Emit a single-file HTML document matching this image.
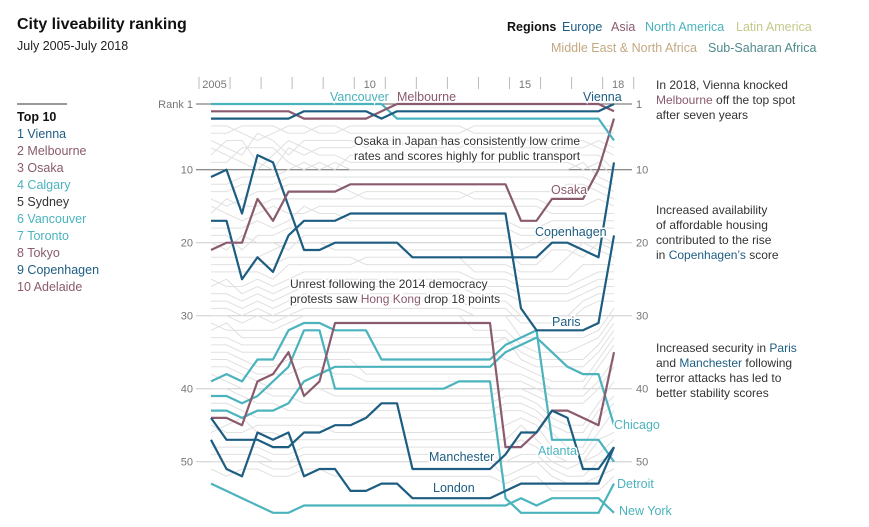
<!DOCTYPE html>
<html><head><meta charset="utf-8">
<style>
html,body{margin:0;padding:0;background:#fff;}
body{width:869px;height:522px;overflow:hidden;font-family:"Liberation Sans",sans-serif;}
svg text{font-family:"Liberation Sans",sans-serif;}
</style></head>
<body>
<svg id="chart" width="869" height="522" viewBox="0 0 869 522" xmlns="http://www.w3.org/2000/svg">
  <text x="17" y="29" font-size="16" font-weight="bold" fill="#111">City liveability ranking</text>
  <text x="17" y="50" font-size="12.5" fill="#222">July 2005-July 2018</text>

  <g font-size="12.5">
    <text x="507" y="31" font-weight="bold" fill="#111">Regions</text>
    <text x="562" y="31" fill="#1d5d82">Europe</text>
    <text x="611" y="31" fill="#8a5a6e">Asia</text>
    <text x="645" y="31" fill="#4bb3bd">North America</text>
    <text x="736" y="31" fill="#c3c98a">Latin America</text>
    <text x="551" y="52" fill="#c4a882">Middle East &amp; North Africa</text>
    <text x="708" y="52" fill="#4f8a8b">Sub-Saharan Africa</text>
  </g>

  <g font-size="12.5">
    <line x1="17" y1="104" x2="67" y2="104" stroke="#333" stroke-width="1"/>
    <text x="17" y="121" font-weight="bold" fill="#111">Top 10</text>
    <text x="17" y="138" fill="#1d5d82">1 Vienna</text>
    <text x="17" y="155" fill="#8a5a6e">2 Melbourne</text>
    <text x="17" y="172" fill="#8a5a6e">3 Osaka</text>
    <text x="17" y="189" fill="#4bb3bd">4 Calgary</text>
    <text x="17" y="206" fill="#333">5 Sydney</text>
    <text x="17" y="223" fill="#4bb3bd">6 Vancouver</text>
    <text x="17" y="240" fill="#4bb3bd">7 Toronto</text>
    <text x="17" y="257" fill="#8a5a6e">8 Tokyo</text>
    <text x="17" y="274" fill="#1d5d82">9 Copenhagen</text>
    <text x="17" y="291" fill="#8a5a6e">10 Adelaide</text>
  </g>

  <g id="axes"></g>
  <g id="grey"></g>
  <g id="hl"></g>

  <g font-size="12" fill="#333" stroke="#fff" stroke-width="3" paint-order="stroke">
    <text x="354" y="145">Osaka in Japan has consistently low crime</text>
    <text x="354" y="160">rates and scores highly for public transport</text>
    <text x="290" y="288">Unrest following the 2014 democracy</text>
    <text x="290" y="303">protests saw <tspan fill="#8a5a6e">Hong Kong</tspan> drop 18 points</text>
  </g>
  <g font-size="12" fill="#333">
    <text x="656" y="89">In 2018, Vienna knocked</text>
    <text x="656" y="104" fill="#8a5a6e">Melbourne<tspan fill="#333"> off the top spot</tspan></text>
    <text x="656" y="119">after seven years</text>
    <text x="656" y="214">Increased availability</text>
    <text x="656" y="229">of affordable housing</text>
    <text x="656" y="244">contributed to the rise</text>
    <text x="656" y="259">in <tspan fill="#1d5d82">Copenhagen’s</tspan> score</text>
    <text x="656" y="352">Increased security in <tspan fill="#1d5d82">Paris</tspan></text>
    <text x="656" y="367">and <tspan fill="#1d5d82">Manchester</tspan> following</text>
    <text x="656" y="382">terror attacks has led to</text>
    <text x="656" y="397">better stability scores</text>
  </g>
</svg>
<script>
const yearLabels = ["2005", "10", "15", "18"];
const yearLabelIdx = [0, 5, 10, 13];
const rankTicks = [1, 10, 20, 30, 40, 50];

const vienna     = [3,3,3,3,3,3,2,2,2,2,2,3,2,2,2,2,2,2,2,2,2,2,2,2,2,2,1];
const melbourne  = [2,2,2,2,2,2,3,3,3,3,3,2,1,1,1,1,1,1,1,1,1,1,1,1,1,1,2];
const vancouver  = [1,1,1,1,1,1,1,1,1,1,1,1,3,3,3,3,3,3,3,3,3,3,3,3,3,3,6];
const osaka      = [21,20,20,14,17,13,13,13,13,12,12,12,12,12,12,12,12,12,12,12,17,17,14,14,14,10,3];
const copenhagen = [11,10,16,8,9,15,21,21,20,20,20,20,20,22,22,22,22,22,22,22,22,22,20,20,21,22,9];
const paris      = [17,17,25,22,24,19,17,17,17,16,16,16,16,16,16,16,16,16,16,16,29,32,32,32,32,31,19];
const hongKong   = [44,44,45,39,38,35,41,39,31,31,31,31,31,31,31,31,31,31,31,48,48,46,43,43,44,45,35];
const manchester = [44,47,47,47,48,48,46,46,45,45,44,42,42,51,51,51,51,51,51,49,46,46,43,44,51,51,48];
const london     = [47,51,52,46,47,46,52,51,51,54,54,53,53,55,55,55,55,55,55,54,53,53,53,53,53,53,48];
const atlanta    = [39,38,39,36,36,32,31,31,32,32,32,36,36,36,36,36,36,36,36,34,33,32,47,47,47,47,50];
const chicago    = [43,43,44,43,43,42,39,38,37,37,37,37,37,37,37,37,37,37,37,35,34,33,35,37,38,38,45];
const detroit    = [41,41,42,41,39,37,32,32,40,40,40,40,40,40,40,40,39,39,39,55,57,57,57,57,57,57,53];
const newYork    = [53,54,55,56,57,57,56,56,56,56,56,56,56,56,56,56,56,56,56,56,55,56,55,55,55,55,57];

const grey1  = [4,4,5,6,5,4,4,5,5,4,4,4,4,4,4,4,4,5,5,5,5,5,5,5,5,5,5];
const grey2  = [5,5,4,4,4,5,5,4,4,5,5,5,5,5,5,5,5,4,4,4,4,4,4,4,4,4,4];
const grey3  = [6,7,8,5,6,8,6,6,6,6,7,6,6,7,7,7,6,7,7,7,7,7,7,7,7,6,7];
const grey4  = [8,6,6,9,10,7,8,7,7,7,6,7,7,6,6,6,7,6,6,6,6,6,6,6,6,7,8];
const grey5  = [9,9,7,7,7,9,10,9,10,8,8,8,8,8,8,8,8,8,8,8,8,8,8,8,8,8,10];
const grey6  = [7,8,9,10,8,6,7,8,8,9,9,9,9,9,9,9,9,9,9,9,9,9,9,9,10,9,11];
const grey7  = [12,12,11,11,11,10,9,10,9,10,10,10,10,10,10,10,10,10,10,10,10,10,10,10,9,11,12];
const grey8  = [13,13,12,12,12,11,11,11,11,11,11,11,11,11,11,11,11,11,11,11,11,11,11,11,11,12,13];
const grey9  = [14,15,14,13,13,12,12,12,12,13,14,14,14,14,14,14,14,13,13,13,13,13,13,12,12,13,14];
const grey10 = [16,14,15,15,14,14,14,14,14,14,13,13,13,13,13,13,13,14,14,14,14,14,15,15,15,14,15];
const grey11 = [15,16,17,16,15,16,16,15,15,15,15,15,15,15,15,15,15,15,15,15,15,15,16,16,16,16,16];
const grey12 = [18,18,18,17,18,17,15,16,16,17,17,17,17,17,17,17,17,17,17,17,18,18,17,17,17,17,17];
const grey13 = [19,19,21,19,19,18,18,18,18,18,18,18,18,18,18,18,18,18,18,18,19,19,18,18,18,18,18];
const grey14 = [20,21,19,20,20,21,19,19,19,19,19,19,19,19,19,19,19,19,19,19,21,20,19,19,19,19,20];
const grey15 = [22,22,22,22,21,20,20,20,21,21,21,21,21,21,21,21,21,21,21,21,23,23,21,21,22,20,21];
const grey16 = [23,23,23,23,23,22,22,22,22,22,23,23,23,23,23,23,23,23,23,23,24,24,24,22,20,21,22];
const grey17 = [24,24,24,24,25,23,23,23,23,23,22,22,22,22,22,22,22,24,24,24,25,25,25,25,23,23,23];
const grey18 = [25,26,26,25,26,25,24,24,24,24,24,24,24,24,24,24,24,25,25,25,26,26,26,26,25,24,24];
const grey19 = [26,25,27,26,27,26,25,25,25,25,25,25,25,25,25,25,25,26,26,26,27,27,27,27,26,25,25];
const grey20 = [27,27,28,27,28,27,26,26,26,26,26,26,26,26,26,26,26,27,27,27,28,28,28,28,27,26,26];
const grey21 = [28,28,29,28,29,28,27,27,27,27,27,27,27,27,27,27,27,28,28,28,30,30,30,30,28,27,27];
const grey22 = [29,29,30,29,30,29,28,28,28,28,28,28,28,28,28,28,28,29,29,29,31,31,31,31,29,28,28];
const grey23 = [30,30,31,30,31,30,29,29,29,29,29,29,29,29,29,29,29,30,30,30,33,33,33,33,33,32,29];
const grey24 = [31,32,32,32,32,31,30,30,30,30,30,30,30,30,30,30,30,32,32,32,34,35,35,35,34,33,30];
const grey25 = [32,31,33,33,33,33,33,33,33,33,33,33,33,33,33,33,33,33,33,33,35,36,36,36,36,34,31];
const grey26 = [33,33,34,34,34,34,34,34,34,34,34,34,34,34,34,34,34,34,34,33,36,37,37,37,37,35,32];
const grey27 = [34,34,35,35,35,35,35,35,35,35,35,35,35,35,35,35,35,35,35,36,37,38,39,39,39,36,33];
const grey28 = [35,35,36,37,37,36,36,36,36,36,38,38,38,38,38,38,38,38,38,38,38,39,40,40,40,37,34];
const grey29 = [36,36,37,38,38,38,37,37,38,38,39,39,39,39,39,39,39,39,39,39,39,40,41,41,41,39,36];
const grey30 = [37,37,38,39,40,40,40,40,41,41,41,41,41,41,41,41,41,41,41,40,40,41,42,42,42,40,37];
const grey31 = [38,39,40,40,41,41,42,42,42,42,42,42,42,42,42,42,42,42,42,41,41,42,44,45,45,42,39];
const grey32 = [40,40,41,42,42,43,43,43,43,43,43,43,43,43,43,43,43,43,43,42,42,43,45,46,46,43,41];
const grey33 = [42,42,43,44,44,44,44,44,44,44,44,44,44,44,44,44,44,44,44,43,43,44,46,48,48,44,42];
const grey34 = [45,46,46,45,45,45,45,45,46,46,46,46,46,46,46,46,46,46,46,45,44,45,48,49,49,46,43];
const grey35 = [46,45,44,46,46,47,47,47,47,47,47,47,47,47,47,47,47,47,47,47,45,47,49,50,50,47,46];
const grey36 = [48,48,48,48,49,49,48,48,48,48,48,48,48,48,48,48,48,48,48,48,47,48,50,51,50,49,47];
const grey37 = [49,49,49,49,50,50,49,49,49,49,49,49,49,49,49,49,49,49,49,50,49,49,51,52,52,50,49];
const grey38 = [50,50,50,50,51,51,50,50,50,50,50,50,50,50,50,50,50,50,50,52,51,50,52,53,53,52,51];
const grey39 = [51,52,51,51,52,52,51,51,52,52,52,52,52,52,52,52,52,52,52,53,52,52,54,54,54,54,52];
const greyLines = [grey1,grey2,grey3,grey4,grey5,grey6,grey7,grey8,grey9,grey10,grey11,grey12,grey13,grey14,grey15,grey16,grey17,grey18,grey19,grey20,grey21,grey22,grey23,grey24,grey25,grey26,grey27,grey28,grey29,grey30,grey31,grey32,grey33,grey34,grey35,grey36,grey37,grey38,grey39];

const NS = "http://www.w3.org/2000/svg";
const X0 = 211, X1 = 614, NPTS = 27;
function xScale(i){ return X0 + (X1 - X0) * i / (NPTS - 1); }
function yScale(r){ return 96.7 + 7.3 * r; }
function mk(tag, attrs, parent){
  const e = document.createElementNS(NS, tag);
  for (const k in attrs) e.setAttribute(k, attrs[k]);
  parent.appendChild(e); return e;
}
function pathFor(arr){ return arr.map((v,i)=>(i?"L":"M")+xScale(i).toFixed(1)+","+yScale(v).toFixed(1)).join(""); }

const axes = document.getElementById("axes");
for (let k = 0; k <= 14; k++){
  const x = 199 + 31.05 * k;
  const t = mk("line", {x1:x, y1:77, x2:x, y2:89, stroke:"#bbb", "stroke-width":1}, axes);
  
  
}
yearLabels.forEach((lab, j) => {
  const k = yearLabelIdx[j];
  const x = 199 + 31.05 * k + 15.5;
  const t = mk("text", {x:x, y:88, "font-size":11, fill:"#777", "text-anchor":"middle"}, axes);
  t.textContent = lab;
  
  
});
rankTicks.forEach(r => {
  const y = yScale(r);
  const dark = (r === 1 || r === 10);
  const g = mk("line", {x1:196, y1:y, x2:632, y2:y, stroke: dark ? "#666" : "#ccc", "stroke-width":1}, axes);
  
  
  const lt = mk("text", {x:193, y:y+4, "font-size":11, fill:"#777", "text-anchor":"end"}, axes);
  lt.textContent = r === 1 ? "Rank 1" : String(r);
  
  
  const rt = mk("text", {x:636, y:y+4, "font-size":11, fill:"#777"}, axes);
  rt.textContent = String(r);
  
  
});

const grey = document.getElementById("grey");
greyLines.forEach(arr => {
  const p = mk("path", {d:pathFor(arr), fill:"none", stroke:"#e0e0e0", "stroke-width":1}, grey);
  
  
});

const EU = "#1d5d82", AS = "#8a5a6e", NA = "#4bb3bd";
const hl = document.getElementById("hl");
const series = [
  ["new-york-line", newYork, NA], ["detroit-line", detroit, NA], ["chicago-line", chicago, NA],
  ["atlanta-line", atlanta, NA], ["hong-kong-line", hongKong, AS], ["london-line", london, EU],
  ["manchester-line", manchester, EU], ["paris-line", paris, EU], ["copenhagen-line", copenhagen, EU],
  ["osaka-line", osaka, AS], ["vancouver-line", vancouver, NA], ["melbourne-line", melbourne, AS],
  ["vienna-line", vienna, EU]
];
series.forEach(s => {
  const p = mk("path", {d:pathFor(s[1]), fill:"none", stroke:s[2], "stroke-width":2.2, "stroke-linejoin":"round"}, hl);
  
  
});

const labels = [
  ["Vancouver", 330, 101, NA], ["Melbourne", 397, 101, AS], ["Vienna", 583, 101, EU],
  ["Osaka", 551, 194, AS], ["Copenhagen", 535, 236, EU], ["Paris", 552, 326, EU],
  ["Manchester", 429, 461, EU], ["London", 433, 492, EU], ["Atlanta", 538, 455, NA],
  ["Chicago", 614, 429, NA], ["Detroit", 617, 488, NA], ["New York", 619, 515, NA]
];
labels.forEach(l => {
  const t = mk("text", {x:l[1], y:l[2], "font-size":12.5, fill:l[3], stroke:"#fff", "stroke-width":3, "paint-order":"stroke"}, hl);
  t.textContent = l[0];
  
  
});
</script>
</body></html>
